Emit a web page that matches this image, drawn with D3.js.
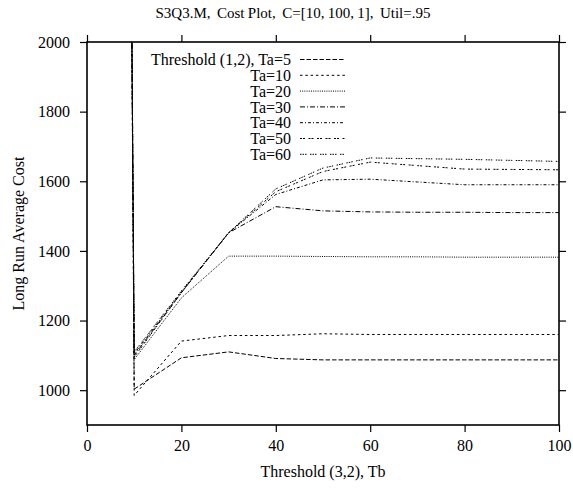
<!DOCTYPE html>
<html><head><meta charset="utf-8">
<script src="https://cdn.jsdelivr.net/npm/d3@7"></script>
<style>body{margin:0;background:#fff}svg{display:block}text{font-family:"Liberation Serif","Times New Roman",serif;fill:#000;white-space:pre}</style>
</head><body><svg id="c" width="573" height="489"></svg>
<script>
const tb = [9, 10, 20, 30, 40, 50, 60, 70, 80, 90, 100];
const ta5  = [3000, 1003, 1093, 1110, 1091, 1087, 1087, 1087, 1087, 1087, 1087];
const ta10 = [3000, 985, 1141, 1157, 1157, 1162, 1160, 1160, 1160, 1160, 1160];
const ta20 = [3000, 1088, 1265, 1385, 1385, 1384, 1383, 1383, 1382, 1382, 1382];
const ta30 = [3000, 1100, 1280, 1452, 1527, 1515, 1512, 1511, 1511, 1510, 1510];
const ta40 = [3000, 1105, 1282, 1452, 1562, 1604, 1606, 1598, 1590, 1590, 1590];
const ta50 = [3000, 1095, 1280, 1452, 1570, 1628, 1655, 1645, 1635, 1634, 1633];
const ta60 = [3000, 1110, 1285, 1452, 1578, 1638, 1667, 1665, 1663, 1660, 1657];
const seriesNames = ["Threshold (1,2), Ta=5","Ta=10","Ta=20","Ta=30","Ta=40","Ta=50","Ta=60"];
const seriesValues = [ta5, ta10, ta20, ta30, ta40, ta50, ta60];
const xTicks = [0, 20, 40, 60, 80, 100];
const yTicks = [1000, 1200, 1400, 1600, 1800, 2000];
const title = "S3Q3.M,  Cost Plot,  C=[10, 100, 1],  Util=.95";
const xLabel = "Threshold (3,2), Tb";
const yLabel = "Long Run Average Cost";

const dashes = ["4.5,2", "2.5,2.8", "1,1.2", "5,2,1,2", "3,2,1,2", "2,1,2,3.5", "1.5,1,1.5,1,1.5,3.5"];

const L = 87, R = 559, T = 42, B = 425;
const x = d3.scaleLinear().domain([0, 100]).range([L, R]);
const y = d3.scaleLinear().domain([900, 2000]).range([B, T]);
const svg = d3.select("#c");
const fs = 16;

svg.append("defs").append("clipPath").attr("id","clip").append("rect")
  .attr("x", L).attr("y", T).attr("width", R - L).attr("height", B - T);

// axes
const tickLen = 7;
const axB = svg.append("g").attr("transform",`translate(0,${B})`)
  .call(d3.axisBottom(x).tickValues(xTicks).tickSize(tickLen).tickPadding(8).tickFormat(d3.format("d")));
const axT = svg.append("g").attr("transform",`translate(0,${T})`)
  .call(d3.axisTop(x).tickValues(xTicks).tickSize(tickLen).tickFormat(""));
const axL = svg.append("g").attr("transform",`translate(${L},0)`)
  .call(d3.axisLeft(y).tickValues(yTicks).tickSize(tickLen).tickPadding(10).tickFormat(d3.format("d")));
const axR = svg.append("g").attr("transform",`translate(${R},0)`)
  .call(d3.axisRight(y).tickValues(yTicks).tickSize(tickLen).tickFormat(""));
[axB, axT, axL, axR].forEach(g => {
  g.select(".domain").remove();
  g.selectAll(".tick line").attr("stroke","#000").attr("stroke-width",1.2);
  g.selectAll("text").attr("font-size", fs).attr("font-family",'"Liberation Serif",serif').attr("fill","#000");
});
svg.append("rect").attr("x", L).attr("y", T).attr("width", R - L).attr("height", B - T)
  .attr("fill","none").attr("stroke","#000").attr("stroke-width",1.6);

// lines
const line = d3.line().x((d,i) => x(tb[i])).y(d => y(d));
const plot = svg.append("g").attr("clip-path","url(#clip)");
seriesValues.forEach((vals, k) => {
  plot.append("path").datum(vals).attr("d", line)
    .attr("fill","none").attr("stroke","#000").attr("stroke-width",1)
    .attr("stroke-dasharray", dashes[k]);
});

// legend
const lg = svg.append("g");
seriesNames.forEach((n, k) => {
  const yy = 59.5 + k * 15.8;
  lg.append("text").attr("x", 291).attr("y", yy).attr("dy","0.35em")
    .attr("text-anchor","end").attr("font-size", fs).text(n);
  lg.append("line").attr("x1", 300).attr("x2", 345).attr("y1", yy).attr("y2", yy)
    .attr("stroke","#000").attr("stroke-width",1).attr("stroke-dasharray", dashes[k]);
});

// titles
svg.append("text").attr("x", 293).attr("y", 18).attr("text-anchor","middle").attr("font-size", 15)
  .attr("word-spacing", -0.5).text(title);
svg.append("text").attr("x", (L + R) / 2).attr("y", 477).attr("text-anchor","middle").attr("font-size", fs).text(xLabel);
svg.append("text").attr("transform",`translate(24,${(T + B) / 2}) rotate(-90)`)
  .attr("text-anchor","middle").attr("font-size", fs).text(yLabel);
</script></body></html>
